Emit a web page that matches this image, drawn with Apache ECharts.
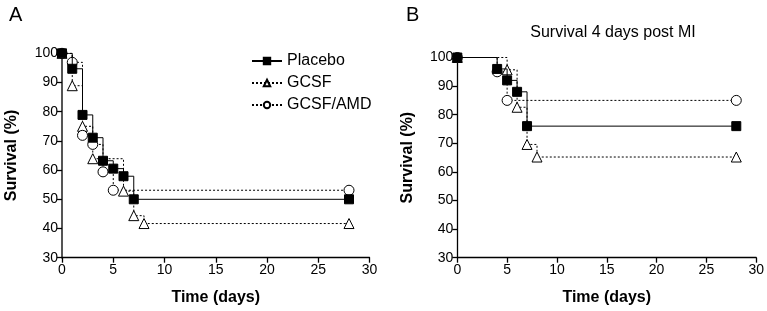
<!DOCTYPE html>
<html>
<head>
<meta charset="utf-8">
<script src="https://cdn.jsdelivr.net/npm/echarts@6/dist/echarts.min.js"></script>
<style>
  html, body { margin: 0; padding: 0; background: #fff; }
  #chart { width: 767px; height: 311px; }
</style>
</head>
<body>
<div id="chart"></div>
<script>
// panel A: Kaplan-Meier steps (time in days, survival in %)
const timeA_placebo = [0, 1, 2, 3, 4, 5, 6, 7, 28]
const survA_placebo = [100, 94.7, 78.9, 71.1, 63.2, 60.5, 57.9, 50, 50]
const timeA_gcsf = [0, 1, 2, 3, 6, 7, 8, 28]
const survA_gcsf = [100, 88.9, 75, 63.9, 52.8, 44.4, 41.7, 41.7]
const timeA_amd = [0, 1, 2, 3, 4, 5, 28]
const survA_amd = [100, 96.9, 71.9, 68.8, 59.4, 53.1, 53.1]

// panel B
const timeB_placebo = [0, 4, 5, 6, 7, 28]
const survB_placebo = [100, 96, 92, 88, 76, 76]
const timeB_gcsf = [0, 5, 6, 7, 8, 28]
const survB_gcsf = [100, 95.7, 82.6, 69.6, 65.2, 65.2]
const timeB_amd = [0, 4, 5, 28]
const survB_amd = [100, 95, 85, 85]

const seriesNames = ['Placebo', 'GCSF', 'GCSF/AMD']
const xTicks = [0, 5, 10, 15, 20, 25, 30]
const yTicks = [30, 40, 50, 60, 70, 80, 90, 100]

const font = 'Liberation Sans, Arial, sans-serif'
const zip = (t, s) => t.map((v, i) => [v, s[i]])

const styles = {
    'Placebo': { symbol: 'rect', symbolSize: 9, fill: '#000', type: 'solid' },
    'GCSF': { symbol: 'triangle', symbolSize: 10, fill: '#fff', type: [2, 2] },
    'GCSF/AMD': { symbol: 'circle', symbolSize: 10, fill: '#fff', type: [2, 2] }
}

const makeSeries = (name, t, s, idx) => {
    const st = styles[name]
    return {
        name: name,
        type: 'line',
        step: 'end',
        xAxisIndex: idx,
        yAxisIndex: idx,
        data: zip(t, s),
        symbol: st.symbol,
        symbolSize: st.symbolSize,
        showAllSymbol: true,
        lineStyle: { color: '#000', width: 1, type: st.type },
        itemStyle: { color: st.fill, borderColor: '#000', borderWidth: 1 },
        emphasis: { disabled: true },
        z: name === 'Placebo' ? 3 : 2
    }
}

const xAxisOpt = (idx) => ({
    gridIndex: idx,
    type: 'value',
    min: xTicks[0],
    max: xTicks[xTicks.length - 1],
    interval: 5,
    name: 'Time (days)',
    nameLocation: 'middle',
    nameGap: 32,
    nameTextStyle: { fontFamily: font, fontSize: 16, fontWeight: 'bold', color: '#000' },
    axisLine: { lineStyle: { color: '#000', width: 1.3 } },
    axisTick: { length: 5, lineStyle: { color: '#000', width: 1.3 } },
    axisLabel: { fontFamily: font, fontSize: 14, color: '#000', margin: 5 },
    splitLine: { show: false }
})

const yAxisOpt = (idx) => ({
    gridIndex: idx,
    type: 'value',
    min: yTicks[0],
    max: yTicks[yTicks.length - 1],
    interval: 10,
    name: 'Survival (%)',
    nameLocation: 'middle',
    nameGap: 42,
    nameTextStyle: { fontFamily: font, fontSize: 16, fontWeight: 'bold', color: '#000' },
    axisLine: { show: true, lineStyle: { color: idx === 0 ? '#555' : '#000', width: idx === 0 ? 2 : 1.3 } },
    axisTick: { show: true, length: 5, lineStyle: { color: '#000', width: 1.3 } },
    axisLabel: { fontFamily: font, fontSize: 14, color: '#000', margin: 4 },
    splitLine: { show: false }
})

const chart = echarts.init(document.getElementById('chart'))
chart.setOption({
    backgroundColor: '#fff',
    animation: false,
    title: [
        { text: 'A', left: 4, top: 0, textStyle: { fontFamily: font, fontSize: 20, fontWeight: 'normal', color: '#000' } },
        { text: 'B', left: 401, top: 0, textStyle: { fontFamily: font, fontSize: 20, fontWeight: 'normal', color: '#000' } },
        { text: 'Survival 4 days post MI', left: 608, top: 20, textAlign: 'center', textStyle: { fontFamily: font, fontSize: 16, fontWeight: 'normal', color: '#000' } }
    ],
    legend: {
        data: seriesNames,
        orient: 'vertical',
        left: 246,
        top: 48,
        itemWidth: 30,
        itemHeight: 8,
        itemGap: 6,
        textStyle: { fontFamily: font, fontSize: 16, color: '#000' },
        selectedMode: false
    },
    grid: [
        { left: 62, top: 53.3, width: 307.5, height: 204.4 },
        { left: 457.3, top: 57.5, width: 300, height: 200.2 }
    ],
    xAxis: [xAxisOpt(0), xAxisOpt(1)],
    yAxis: [yAxisOpt(0), yAxisOpt(1)],
    series: [
        makeSeries('GCSF', timeA_gcsf, survA_gcsf, 0),
        makeSeries('GCSF/AMD', timeA_amd, survA_amd, 0),
        makeSeries('Placebo', timeA_placebo, survA_placebo, 0),
        makeSeries('GCSF', timeB_gcsf, survB_gcsf, 1),
        makeSeries('GCSF/AMD', timeB_amd, survB_amd, 1),
        makeSeries('Placebo', timeB_placebo, survB_placebo, 1)
    ]
})
</script>
</body>
</html>
